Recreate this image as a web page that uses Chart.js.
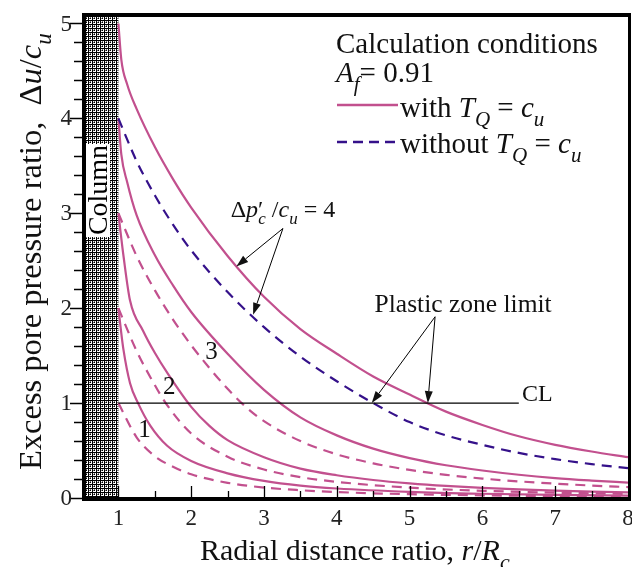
<!DOCTYPE html>
<html>
<head>
<meta charset="utf-8">
<script src="https://cdn.jsdelivr.net/npm/chart.js@4.4.0/dist/chart.umd.min.js"></script>
<style>
  html, body { margin: 0; padding: 0; background: #fff; }
  #wrap { width: 632px; height: 567px; }
</style>
</head>
<body>
<div id="wrap"><canvas id="chart"></canvas></div>
<script>
// curves: solid = with T_Q = c_u, dashed = without
const solid4X = [1, 1.04, 1.12, 1.25, 1.5, 1.75, 2, 2.5, 3, 3.5, 4, 4.5, 5, 5.5, 6, 6.5, 7, 7.5, 8];
const solid4Y = [5.0, 4.62, 4.36, 4.1, 3.7, 3.36, 3.06, 2.55, 2.12, 1.78, 1.52, 1.28, 1.09, 0.91, 0.77, 0.65, 0.56, 0.49, 0.43];
const dashed4X = [1, 1.25, 1.5, 1.75, 2, 2.5, 3, 3.5, 4, 4.5, 5, 5.5, 6, 6.5, 7, 7.5, 8];
const dashed4Y = [4.0, 3.55, 3.19, 2.88, 2.61, 2.17, 1.80, 1.49, 1.23, 1.0, 0.80, 0.66, 0.56, 0.475, 0.41, 0.357, 0.314];

const solid3X = [1, 1.04, 1.12, 1.25, 1.5, 1.75, 2, 2.5, 3, 3.5, 4, 4.5, 5, 5.5, 6, 6.5, 7, 7.5, 8];
const solid3Y = [4.0, 3.62, 3.33, 2.98, 2.56, 2.24, 1.96, 1.52, 1.14, 0.85, 0.66, 0.52, 0.42, 0.345, 0.29, 0.245, 0.21, 0.184, 0.162];
const dashed3X = [1, 1.25, 1.5, 1.75, 2, 2.25, 2.5, 2.75, 3, 3.5, 4, 4.5, 5, 5.5, 6, 6.5, 7, 7.5, 8];
const dashed3Y = [3.0, 2.55, 2.19, 1.88, 1.61, 1.37, 1.15, 0.96, 0.81, 0.60, 0.46, 0.365, 0.296, 0.244, 0.205, 0.175, 0.151, 0.131, 0.115];

const solid2X = [1, 1.03, 1.07, 1.16, 1.34, 1.5, 1.67, 2, 2.25, 2.5, 3, 3.5, 4, 4.5, 5, 5.5, 6, 6.5, 7, 7.5, 8];
const solid2Y = [3.0, 2.8, 2.55, 2.08, 1.76, 1.53, 1.32, 0.96, 0.76, 0.61, 0.43, 0.31, 0.24, 0.19, 0.154, 0.127, 0.107, 0.091, 0.078, 0.068, 0.06];
const dashed2X = [1, 1.25, 1.5, 1.65, 2, 2.5, 3, 3.5, 4, 5, 6, 7, 8];
const dashed2Y = [2.0, 1.55, 1.19, 1.0, 0.68, 0.435, 0.30, 0.22, 0.17, 0.109, 0.076, 0.056, 0.043];

const solid1X = [1, 1.03, 1.07, 1.16, 1.27, 1.44, 1.67, 2, 2.5, 3, 3.5, 4, 5, 6, 7, 8];
const solid1Y = [2.0, 1.8, 1.56, 1.21, 1.0, 0.76, 0.55, 0.39, 0.26, 0.18, 0.13, 0.10, 0.065, 0.045, 0.033, 0.025];
const dashed1X = [1, 1.25, 1.5, 1.75, 2, 2.5, 3, 3.5, 4, 5, 6, 7, 8];
const dashed1Y = [1.0, 0.64, 0.44, 0.33, 0.25, 0.16, 0.11, 0.082, 0.0625, 0.04, 0.028, 0.02, 0.016];

// critical state line
const clX = [1, 6.5];
const clY = [1, 1];

const xTickVals = [1, 2, 3, 4, 5, 6, 7, 8];
const yTickVals = [0, 1, 2, 3, 4, 5];

const PINK = "#c2508e";
const PURPLE = "#35118a";
const FONT = "'Liberation Serif', 'Times New Roman', serif";

function pts(xs, ys) {
    return xs.map((x, i) => ({ x: x, y: ys[i] }));
}

function curve(xs, ys, color, dashed) {
    return {
        data: pts(xs, ys),
        borderColor: color,
        borderWidth: 2.2,
        borderDash: dashed ? [10, 7] : [],
        pointRadius: 0,
        cubicInterpolationMode: "monotone",
        fill: false
    };
}

// text made of normal / italic / subscript pieces
function fontFor(p, size) {
    const s = p.sub ? Math.round(size * 0.72) : size;
    return (p.i ? "italic " : "") + s + "px " + FONT;
}
function richWidth(ctx, parts, size) {
    let w = 0;
    parts.forEach(p => { ctx.font = fontFor(p, size); w += ctx.measureText(p.t).width + (p.dx || 0); });
    return w;
}
function drawRich(ctx, parts, x, y, size, align) {
    const w = richWidth(ctx, parts, size);
    let cx = align === "center" ? x - w / 2 : (align === "right" ? x - w : x);
    ctx.textAlign = "left";
    ctx.textBaseline = "alphabetic";
    parts.forEach(p => {
        ctx.font = fontFor(p, size);
        cx += p.dx || 0;
        ctx.fillText(p.t, cx, y + (p.sub ? size * 0.3 : 0));
        cx += ctx.measureText(p.t).width;
    });
}

function arrow(ctx, x1, y1, x2, y2) {
    const a = Math.atan2(y2 - y1, x2 - x1);
    const len = 12, half = 4;
    ctx.beginPath();
    ctx.moveTo(x1, y1);
    ctx.lineTo(x2 - Math.cos(a) * len, y2 - Math.sin(a) * len);
    ctx.stroke();
    ctx.beginPath();
    ctx.moveTo(x2, y2);
    ctx.lineTo(x2 - Math.cos(a) * len - Math.sin(a) * half, y2 - Math.sin(a) * len + Math.cos(a) * half);
    ctx.lineTo(x2 - Math.cos(a) * len + Math.sin(a) * half, y2 - Math.sin(a) * len - Math.cos(a) * half);
    ctx.closePath();
    ctx.fill();
}

function hatchPattern(ctx) {
    const c = document.createElement("canvas");
    c.width = 4; c.height = 4;
    const g = c.getContext("2d");
    g.fillStyle = "#fff";
    g.fillRect(0, 0, 4, 4);
    g.fillStyle = "#000";
    g.fillRect(0, 0, 4, 1);
    g.fillRect(0, 0, 1, 4);
    g.fillRect(2, 2, 1, 1);
    g.fillStyle = "#777";
    g.fillRect(2, 1, 1, 1);
    g.fillRect(1, 2, 1, 1);
    return ctx.createPattern(c, "repeat");
}

const decorPlugin = {
    id: "decor",
    beforeDatasetsDraw(chart) {
        const ctx = chart.ctx, xs = chart.scales.x, a = chart.chartArea;
        ctx.save();
        // column
        const cl = xs.getPixelForValue(0.5), cr = xs.getPixelForValue(1);
        ctx.fillStyle = hatchPattern(ctx);
        ctx.fillRect(cl, a.top, cr - cl, a.bottom - a.top);
        ctx.fillStyle = "#fff";
        ctx.fillRect(86, 144, 24, 93);
        ctx.translate(107, 190);
        ctx.rotate(-Math.PI / 2);
        ctx.fillStyle = "#000";
        ctx.font = "28px " + FONT;
        ctx.textAlign = "center";
        ctx.textBaseline = "alphabetic";
        ctx.fillText("Column", 0, 0);
        ctx.restore();
    },
    afterDraw(chart) {
        const ctx = chart.ctx, xs = chart.scales.x, ys = chart.scales.y, a = chart.chartArea;
        const X = v => xs.getPixelForValue(v), Y = v => ys.getPixelForValue(v);
        ctx.save();
        ctx.strokeStyle = "#000";
        ctx.fillStyle = "#000";
        // frame
        ctx.lineWidth = 4;
        ctx.beginPath();
        ctx.moveTo(a.left + 2, a.top); ctx.lineTo(a.left + 2, a.bottom + 3);
        ctx.moveTo(a.left, a.bottom + 1); ctx.lineTo(a.right + 3, a.bottom + 1);
        ctx.moveTo(a.left, a.top + 1); ctx.lineTo(a.right + 3, a.top + 1);
        ctx.stroke();
        ctx.lineWidth = 3;
        ctx.beginPath();
        ctx.moveTo(a.right + 1.5, a.top); ctx.lineTo(a.right + 1.5, a.bottom + 3);
        ctx.stroke();
        // ticks: y outward, x inward
        ctx.lineWidth = 1.3;
        ctx.beginPath();
        for (let k = 0; k <= 25; k++) {
            const v = k / 5, py = Math.round(Y(v)) + 0.5;
            ctx.moveTo(a.left - (k % 5 === 0 ? 12 : 8), py);
            ctx.lineTo(a.left + 1, py);
        }
        for (let k = 2; k <= 16; k++) {
            const v = k / 2, px = Math.round(X(v)) + 0.5;
            if (v >= 8) continue;
            ctx.moveTo(px, a.bottom);
            ctx.lineTo(px, a.bottom - (k % 2 === 0 ? 12 : 7));
        }
        ctx.stroke();

        // tick labels
        ctx.fillStyle = "#222";
        ctx.font = "23px " + FONT;
        ctx.textBaseline = "middle";
        ctx.textAlign = "right";
        yTickVals.forEach(v => ctx.fillText(String(v), a.left - 10, Y(v) + 1));
        ctx.textAlign = "center";
        xTickVals.forEach(v => ctx.fillText(String(v), X(v), 519));

        ctx.fillStyle = "#111";
        // axis titles
        drawRich(ctx, [{ t: "Radial distance ratio, " }, { t: "r", i: 1 }, { t: "/" }, { t: "R", i: 1 }, { t: "c", i: 1, sub: 1 }], 200, 560, 30, "left");
        ctx.save();
        ctx.translate(41, 470);
        ctx.rotate(-Math.PI / 2);
        drawRich(ctx, [{ t: "Excess pore pressure ratio,  " }, { t: "Δ" }, { t: "u", i: 1 }, { t: "/" }, { t: "c", i: 1 }, { t: "u", i: 1, sub: 1 }], 0, 0, 32.5, "left");
        ctx.restore();

        // legend block
        drawRich(ctx, [{ t: "Calculation conditions" }], 336, 53, 29, "left");
        drawRich(ctx, [{ t: "A", i: 1 }, { t: "f", i: 1, sub: 1 }, { t: "= 0.91" }], 336, 82, 29, "left");
        ctx.lineWidth = 2.5;
        ctx.strokeStyle = PINK;
        ctx.beginPath(); ctx.moveTo(337, 105); ctx.lineTo(398, 105); ctx.stroke();
        ctx.strokeStyle = PURPLE;
        ctx.setLineDash([10, 6]);
        ctx.beginPath(); ctx.moveTo(337, 142); ctx.lineTo(398, 142); ctx.stroke();
        ctx.setLineDash([]);
        drawRich(ctx, [{ t: "with " }, { t: "T", i: 1 }, { t: "Q", i: 1, sub: 1 }, { t: " = " }, { t: "c", i: 1 }, { t: "u", i: 1, sub: 1 }], 400, 117, 29, "left");
        drawRich(ctx, [{ t: "without " }, { t: "T", i: 1 }, { t: "Q", i: 1, sub: 1 }, { t: " = " }, { t: "c", i: 1 }, { t: "u", i: 1, sub: 1 }], 400, 153, 29, "left");

        // annotations
        ctx.strokeStyle = "#000";
        ctx.fillStyle = "#111";
        ctx.lineWidth = 1;
        drawRich(ctx, [{ t: "Δ" }, { t: "p", i: 1 }, { t: "′" }, { t: "c", i: 1, sub: 1, dx: -5 }, { t: " /" }, { t: "c", i: 1 }, { t: "u", i: 1, sub: 1 }, { t: " = 4" }], X(3.26), Y(2.96), 24, "center");
        arrow(ctx, X(3.26), Y(2.84), X(2.62), Y(2.44));
        arrow(ctx, X(3.26), Y(2.84), X(2.85), Y(1.93));
        drawRich(ctx, [{ t: "Plastic zone limit" }], X(5.735), Y(1.96), 25.5, "center");
        arrow(ctx, X(5.35), Y(1.91), X(4.48), Y(1.0));
        arrow(ctx, X(5.35), Y(1.91), X(5.25), Y(1.0));
        drawRich(ctx, [{ t: "CL" }], X(6.545), Y(1.02), 24, "left");
        ctx.font = "25px " + FONT;
        ctx.textAlign = "center";
        ctx.textBaseline = "middle";
        ctx.fillText("3", X(2.28), Y(1.53));
        ctx.fillText("2", X(1.70), Y(1.16));
        ctx.fillText("1", X(1.36), Y(0.71));
        ctx.restore();
    }
};

new Chart(document.getElementById("chart"), {
    type: "line",
    data: {
        datasets: [
            { data: pts(clX, clY), borderColor: "#000", borderWidth: 1.2, pointRadius: 0, fill: false },
            curve(dashed1X, dashed1Y, PINK, true),
            curve(dashed2X, dashed2Y, PINK, true),
            curve(dashed3X, dashed3Y, PINK, true),
            curve(dashed4X, dashed4Y, PURPLE, true),
            curve(solid1X, solid1Y, PINK, false),
            curve(solid2X, solid2Y, PINK, false),
            curve(solid3X, solid3Y, PINK, false),
            curve(solid4X, solid4Y, PINK, false)
        ]
    },
    options: {
        responsive: true,
        maintainAspectRatio: false,
        animation: false,
        devicePixelRatio: 1,
        layout: { padding: { top: 14, right: 4, left: 0, bottom: 0 } },
        plugins: { legend: { display: false }, tooltip: { enabled: false } },
        scales: {
            x: {
                type: "linear",
                min: 0.5,
                max: 8,
                afterBuildTicks: s => { s.ticks = xTickVals.map(v => ({ value: v })); },
                afterFit: s => { s.height = 69; },
                grid: { display: false, drawTicks: false },
                border: { display: false },
                ticks: { display: false }
            },
            y: {
                min: 0,
                max: 5.1,
                afterBuildTicks: s => { s.ticks = yTickVals.map(v => ({ value: v })); },
                afterFit: s => { s.width = 82; },
                grid: { display: false, drawTicks: false },
                border: { display: false },
                ticks: { display: false }
            }
        }
    },
    plugins: [decorPlugin]
});
</script>
</body>
</html>
